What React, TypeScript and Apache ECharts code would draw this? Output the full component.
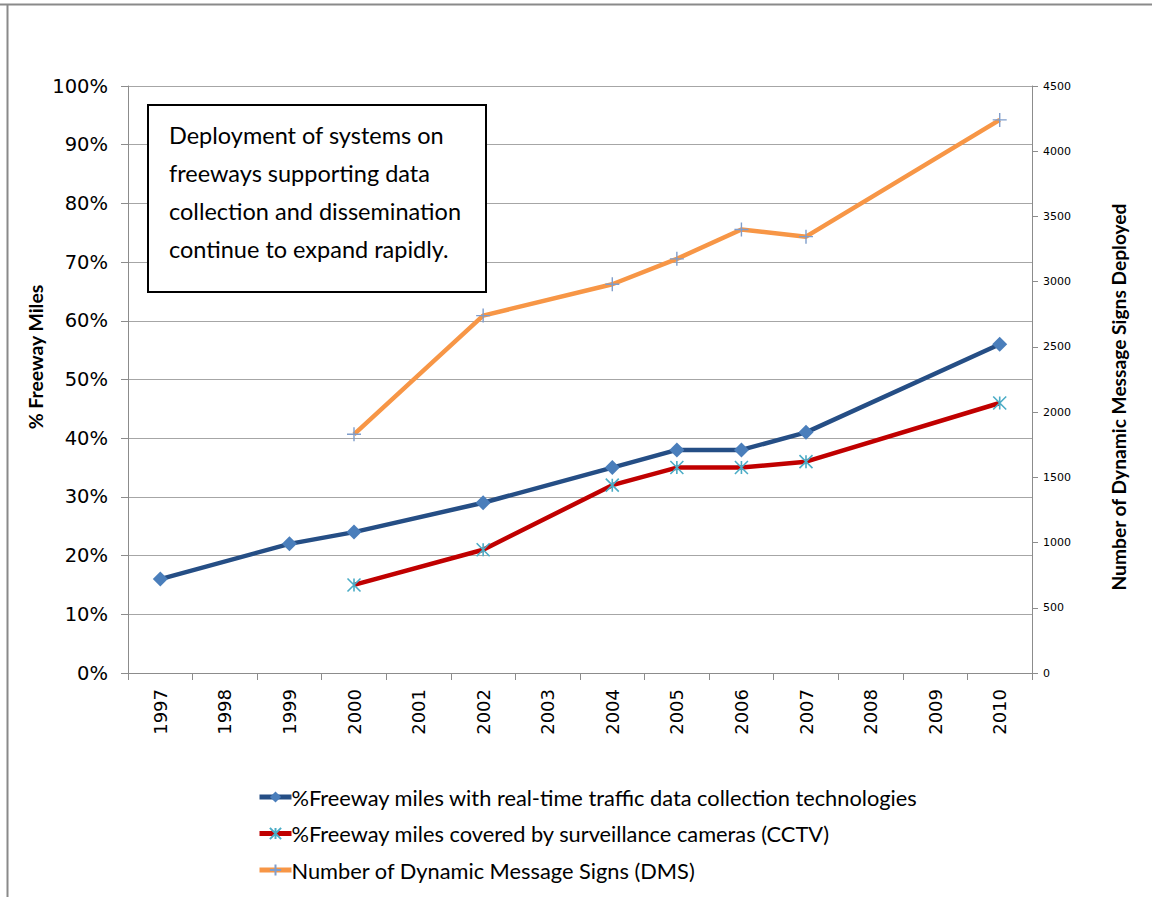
import React, { useEffect, useRef } from "react";
import * as echarts from "echarts";

const years = ["1997","1998","1999","2000","2001","2002","2003","2004","2005","2006","2007","2008","2009","2010"];
const dataCollection = [16, null, 22, 24, null, 29, null, 35, 38, 38, 41, null, null, 56];
const cctv = [null, null, null, 15, null, 21, null, 32, 35, 35, 36, null, null, 46];
const dms = [null, null, null, 1830, null, 2740, null, 2980, 3175, 3400, 3345, null, null, 4240];
const leftTicks = [0, 10, 20, 30, 40, 50, 60, 70, 80, 90, 100];
const rightMax = 4500;
const seriesNames = [
  "%Freeway miles with real-time traffic data collection technologies",
  "%Freeway miles covered by surveillance cameras (CCTV)",
  "Number of Dynamic Message Signs (DMS)",
];
const noteLines = [
  "Deployment of systems on",
  "freeways supporting data",
  "collection and dissemination",
  "continue to expand rapidly.",
];

const ASTERISK = "path://M0,0L10,10M10,0L0,10M5,0L5,10";
const PLUS = "path://M5,0L5,10M0,5L10,5";

export default function App() {
  const ref = useRef<HTMLDivElement>(null);
  useEffect(() => {
    if (!ref.current) return;
    const chart = echarts.init(ref.current, null, { renderer: "svg" });
    const axisFont = "DejaVu Sans";
    const textFont = "Lato";
    chart.setOption({
      animation: false,
      backgroundColor: "#ffffff",
      grid: { left: 128, right: 120, top: 86, bottom: 224 },
      xAxis: {
        type: "category",
        data: years,
        boundaryGap: true,
        axisLine: { lineStyle: { color: "#8c8c8c", width: 1 } },
        axisTick: { show: true, alignWithLabel: false, length: 7, lineStyle: { color: "#8c8c8c" } },
        axisLabel: { rotate: 90, color: "#000", fontFamily: axisFont, fontSize: 18, margin: 16, interval: 0 },
        splitLine: { show: false },
      },
      yAxis: [
        {
          type: "value",
          min: 0,
          max: 100,
          interval: 10,
          position: "left",
          axisLine: { show: true, lineStyle: { color: "#8c8c8c" } },
          axisTick: { show: true, length: 7, lineStyle: { color: "#8c8c8c" } },
          axisLabel: { formatter: (v: number) => (leftTicks.includes(v) ? v + "%" : ""), color: "#000", fontFamily: axisFont, fontSize: 19.5, margin: 20 },
          splitLine: { show: true, lineStyle: { color: "#a6a6a6", width: 1 } },
        },
        {
          type: "value",
          min: 0,
          max: rightMax,
          interval: 500,
          position: "right",
          axisLine: { show: true, lineStyle: { color: "#8c8c8c" } },
          axisTick: { show: true, length: 6, lineStyle: { color: "#8c8c8c" } },
          axisLabel: { formatter: (v: number) => String(v), color: "#000", fontFamily: axisFont, fontSize: 11, margin: 11 },
          splitLine: { show: false },
        },
      ],
      legend: {
        orient: "vertical",
        left: 252,
        top: 781,
        itemWidth: 32,
        itemHeight: 14,
        itemGap: 14.5,
        lineStyle: { width: 5 },
        textStyle: { fontFamily: textFont, fontSize: 21.8, color: "#000", padding: [0, 0, 0, -5] },
        data: seriesNames,
      },
      series: [
        {
          name: seriesNames[0],
          type: "line",
          yAxisIndex: 0,
          data: dataCollection,
          connectNulls: true,
          symbol: "diamond",
          symbolSize: 15,
          lineStyle: { color: "#254E85", width: 4.5 },
          itemStyle: { color: "#4A7EBB" },
          z: 3,
        },
        {
          name: seriesNames[1],
          type: "line",
          yAxisIndex: 0,
          data: cctv,
          connectNulls: true,
          symbol: ASTERISK,
          symbolSize: 13,
          lineStyle: { color: "#C00000", width: 4.5 },
          itemStyle: { color: "none", borderColor: "#4BACC6", borderWidth: 1.6 },
          z: 2,
        },
        {
          name: seriesNames[2],
          type: "line",
          yAxisIndex: 1,
          data: dms,
          connectNulls: true,
          symbol: PLUS,
          symbolSize: 14,
          lineStyle: { color: "#F79646", width: 4.5 },
          itemStyle: { color: "none", borderColor: "#7F9DCB", borderWidth: 1.4 },
          z: 1,
        },
      ],
      graphic: [
        { type: "line", shape: { x1: 0, y1: 4.5, x2: 1152, y2: 4.5 }, style: { stroke: "#8a8a8a", lineWidth: 2 }, z: 10 },
        { type: "line", shape: { x1: 7.5, y1: 4, x2: 7.5, y2: 897 }, style: { stroke: "#8a8a8a", lineWidth: 2 }, z: 10 },
        {
          type: "rect",
          shape: { x: 148, y: 105, width: 338, height: 187 },
          style: { fill: "#ffffff", stroke: "#000000", lineWidth: 2 },
          z: 20,
        },
        ...noteLines.map((t, i) => ({
          type: "text",
          x: 169,
          y: 135 + i * 38,
          style: { text: t, fontFamily: textFont, fontSize: 23.5, fill: "#000", verticalAlign: "middle" },
          z: 21,
        })),
        {
          type: "text",
          x: 35,
          y: 357,
          rotation: Math.PI / 2,
          style: { text: "% Freeway Miles", fontFamily: textFont, fontWeight: "bold", fontSize: 19.4, fill: "#000", align: "center", verticalAlign: "middle" },
        },
        {
          type: "text",
          x: 1118,
          y: 397,
          rotation: Math.PI / 2,
          style: { text: "Number of Dynamic Message Signs Deployed", fontFamily: textFont, fontWeight: "bold", fontSize: 19.2, fill: "#000", align: "center", verticalAlign: "middle" },
        },
      ],
    });
    return () => chart.dispose();
  }, []);
  return <div ref={ref} style={{ width: 1152, height: 897, position: "absolute", left: 0, top: 0 }} />;
}
